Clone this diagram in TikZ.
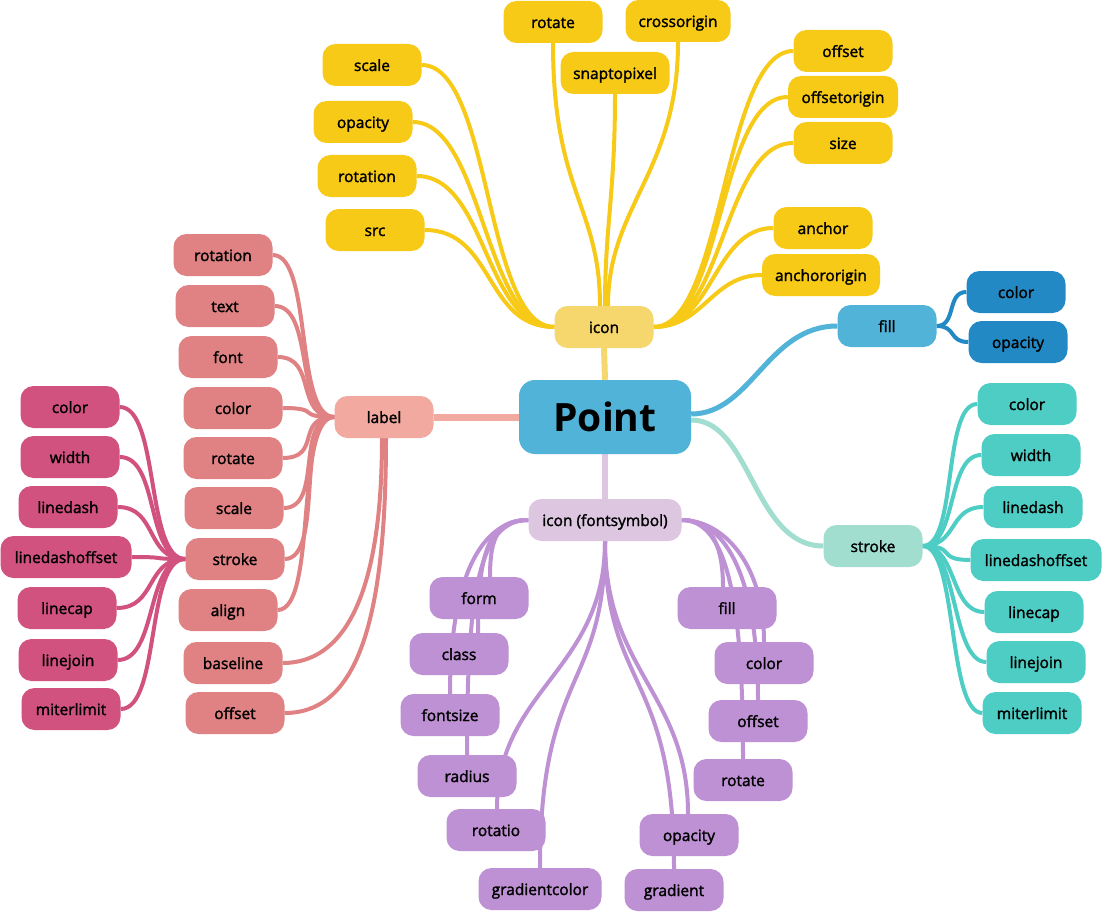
\documentclass[tikz,border=0pt]{standalone}
\usepackage{fontspec}
\setmainfont{Open Sans}
\newfontfamily\nodefont{Open Sans}[FakeBold=1.8]
\pgfdeclarelayer{bg}
\pgfsetlayers{bg,main}
\definecolor{ylw}{HTML}{F7CA18}
\definecolor{ylwlt}{HTML}{F5D76E}
\definecolor{pblue}{HTML}{52B3D9}
\definecolor{dblue}{HTML}{2389C4}
\definecolor{mintc}{HTML}{A2DED0}
\definecolor{tealc}{HTML}{4ECDC4}
\definecolor{lblc}{HTML}{F1A9A0}
\definecolor{salm}{HTML}{E08283}
\definecolor{pinkc}{HTML}{D2527F}
\definecolor{lav}{HTML}{DCC6E0}
\definecolor{purp}{HTML}{BE90D4}
\tikzset{
  box/.style={rounded corners=13pt, minimum height=42pt, minimum width=99pt, inner sep=0pt,
    font=\nodefont\fontsize{15.5}{17}\selectfont, text height=13pt, text depth=1pt, text=black},
  yb/.style={box, fill=ylw},
  tb/.style={box, fill=tealc},
  sb/.style={box, fill=salm},
  kb/.style={box, fill=pinkc},
  pb/.style={box, fill=purp},
  db/.style={box, fill=dblue},
  e/.style={line width=4pt},
  root/.style={line width=6pt}
}
\begin{document}
\begin{tikzpicture}[x=1pt,y=-1pt]
\useasboundingbox (0,0) rectangle (1102,912);
\begin{pgfonlayer}{bg}
\fill[white] (0,0) rectangle (1102,912);
\end{pgfonlayer}
% root
\node[box, fill=pblue, minimum width=172pt, minimum height=74pt, rounded corners=16pt,
  font=\fontsize{39}{41}\selectfont\bfseries, text height=28pt, text depth=0pt] (P) at (605,417) {Point};
% icon branch
\node[box, fill=ylwlt] (ic) at (604,327) {icon};
\node[yb] (ic1) at (372,65) {scale};
\node[yb] (ic2) at (363,122) {opacity};
\node[yb] (ic3) at (367,176) {rotation};
\node[yb] (ic4) at (375,230) {src};
\node[yb] (ic5) at (553,22) {rotate};
\node[yb, minimum width=105pt] (ic6) at (678,21) {crossorigin};
\node[yb, minimum width=109pt] (ic7) at (615,73) {snaptopixel};
\node[yb] (ic8) at (843,51) {offset};
\node[yb, minimum width=110pt] (ic9) at (843,97) {offsetorigin};
\node[yb] (ic10) at (843,143) {size};
\node[yb] (ic11) at (823,228) {anchor};
\node[yb, minimum width=118pt] (ic12) at (821,275) {anchororigin};
% fill branch
\node[box, fill=pblue] (fl) at (887,326) {fill};
\node[db] (fc) at (1016,292) {color};
\node[db] (fo) at (1018,342) {opacity};
% stroke branch
\node[box, fill=mintc] (st) at (873,546) {stroke};
\node[tb] (s1) at (1027,404) {color};
\node[tb] (s2) at (1031,455) {width};
\node[tb] (s3) at (1033,507) {linedash};
\node[tb, minimum width=131pt] (s4) at (1036,560) {linedashoffset};
\node[tb] (s5) at (1034,612) {linecap};
\node[tb] (s6) at (1036,662) {linejoin};
\node[tb] (s7) at (1032,713) {miterlimit};
% label branch
\node[box, fill=lblc] (lb) at (384,417) {label};
\node[sb] (l1) at (223,255) {rotation};
\node[sb] (l2) at (225,306) {text};
\node[sb] (l3) at (228,357) {font};
\node[sb] (l4) at (233,408) {color};
\node[sb] (l5) at (233,458) {rotate};
\node[sb] (l6) at (234,508) {scale};
\node[sb] (l7) at (235,559) {stroke};
\node[sb] (l8) at (228,610) {align};
\node[sb] (l9) at (233,663) {baseline};
\node[sb] (l10) at (235,713) {offset};
\node[kb] (k1) at (70,407) {color};
\node[kb] (k2) at (70,457) {width};
\node[kb] (k3) at (68,507) {linedash};
\node[kb, minimum width=131pt] (k4) at (66,557) {linedashoffset};
\node[kb] (k5) at (67,608) {linecap};
\node[kb] (k6) at (68,660) {linejoin};
\node[kb] (k7) at (71,709) {miterlimit};
% icon (fontsymbol) branch
\node[box, fill=lav, minimum width=153pt] (fs) at (605,520) {icon (fontsymbol)};
\node[pb] (pf1) at (479,598) {form};
\node[pb] (pf2) at (459,654) {class};
\node[pb] (pf3) at (450,715) {fontsize};
\node[pb] (pf4) at (467,776) {radius};
\node[pb] (pf5) at (496,830) {rotatio};
\node[pb, minimum width=123pt] (pf6) at (540,889) {gradientcolor};
\node[pb] (pp1) at (727,608) {fill};
\node[pb] (pp2) at (764,663) {color};
\node[pb] (pp3) at (758,721) {offset};
\node[pb] (pp4) at (743,780) {rotate};
\node[pb] (pp5) at (689,835) {opacity};
\node[pb] (pp6) at (674,890) {gradient};

\begin{pgfonlayer}{bg}
% root connectors
\draw[root, ylwlt] (P.north) -- (ic.south);
\draw[line width=7pt, lblc] (P.west) -- (lb.east);
\draw[root, lav] (P.south) -- (fs.north);
\draw[line width=5pt, pblue] ([yshift=3pt]P.east) .. controls +(60,0) and +(-70,0) .. (fl.west);
\draw[line width=5pt, mintc] ([yshift=-3pt]P.east) .. controls +(60,0) and +(-70,0) .. (st.west);
% icon
\begin{scope}[e, ylw]
\foreach \n in {ic1,ic2,ic3,ic4}
  \draw (ic.west) .. controls +(-70,0) and +(70,0) .. (\n.east);
\foreach \n in {ic8,ic9,ic10}
  \draw (ic.east) .. controls +(70,0) and +(-70,0) .. (\n.west);
\draw (ic.east) .. controls +(60,0) and +(-60,0) .. (ic11.west);
\draw (ic.east) .. controls +(50,0) and +(-50,0) .. (ic12.west);
\draw (ic5.south) .. controls +(0,150) and +(0,-100) .. ([xshift=-4pt]ic.north);
\draw (ic7.south) .. controls +(0,100) and +(0,-80) .. ([xshift=1pt]ic.north);
\draw (ic6.south) .. controls +(0,130) and +(0,-100) .. ([xshift=4pt]ic.north);
\end{scope}
% fill
\begin{scope}[e, dblue]
\draw (fl.east) .. controls +(20,0) and +(-20,0) .. (fc.west);
\draw (fl.east) .. controls +(20,0) and +(-20,0) .. (fo.west);
\end{scope}
% stroke
\begin{scope}[e, tealc]
\foreach \n in {s1,s2,s3,s4,s5,s6,s7}
  \draw (st.east) .. controls +(35,0) and +(-35,0) .. (\n.west);
\end{scope}
% label
\begin{scope}[e, salm]
\foreach \n in {l1,l2,l3,l4,l5,l6,l7,l8}
  \draw (lb.west) .. controls +(-40,0) and +(40,0) .. (\n.east);
\draw ([xshift=-2pt]lb.south) .. controls +(0,160) and +(60,0) .. (l9.east);
\draw ([xshift=2pt]lb.south) .. controls +(0,190) and +(70,0) .. (l10.east);
\end{scope}
\begin{scope}[e, pinkc]
\foreach \n in {k1,k2,k3,k4,k5,k6,k7}
  \draw (l7.west) .. controls +(-40,0) and +(40,0) .. (\n.east);
\end{scope}
% fontsymbol
\begin{scope}[e, purp]
\draw (fs.west) .. controls +(-30,0) and +(0,-40) .. ([xshift=11pt]pf1.north);
\draw (fs.west) .. controls +(-40,0) and +(0,-80) .. ([xshift=19pt]pf2.north);
\draw (fs.west) .. controls +(-45,0) and +(0,-120) .. (pf3.north);
\draw (fs.west) .. controls +(-50,0) and +(0,-160) .. (pf4.north);
\draw (fs.east) .. controls +(30,0) and +(0,-40) .. ([xshift=-4pt]pp1.north);
\draw (fs.east) .. controls +(40,0) and +(0,-80) .. (pp2.north);
\draw (fs.east) .. controls +(45,0) and +(0,-120) .. (pp3.north);
\draw (fs.east) .. controls +(45,0) and +(0,-160) .. (pp4.north);
\draw (fs.south) .. controls +(0,130) and +(0,-120) .. ([xshift=1pt]pf5.north);
\draw (fs.south) .. controls +(0,150) and +(0,-200) .. (pf6.north);
\draw (fs.south) .. controls +(0,130) and +(0,-120) .. ([xshift=-1pt]pp5.north);
\draw (fs.south) .. controls +(0,150) and +(0,-200) .. (pp6.north);
\end{scope}
\end{pgfonlayer}
\end{tikzpicture}
\end{document}
